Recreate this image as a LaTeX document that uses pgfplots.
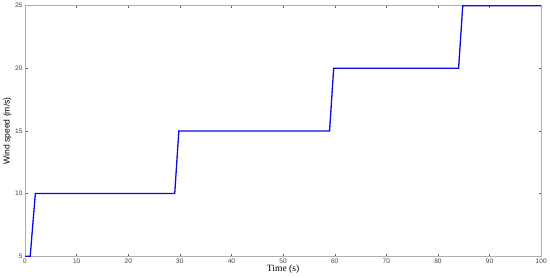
\documentclass[border=0pt]{standalone}
\usepackage{fontspec}
\setmainfont{Liberation Sans}
\newfontfamily\timesfont{Liberation Serif}
\usepackage{pgfplots}
\pgfplotsset{compat=1.18}
\definecolor{axgray}{RGB}{175,175,175}
\definecolor{lineblue}{RGB}{10,10,225}
\begin{document}
\begin{tikzpicture}
\begin{axis}[
  scale only axis,
  width=513pt, height=249pt,
  xmin=0, xmax=100, ymin=5, ymax=25,
  xtick={0,10,...,100},
  ytick={5,10,15,20,25},
  tick align=inside,
  major tick length=2.5pt,
  axis line style={axgray, line width=0.8pt},
  tick style={gray!80!black, line width=0.4pt},
  tick label style={font=\fontsize{6.5}{7}\selectfont, text=black!75},
  /pgf/number format/assume math mode=true,
  xticklabel style={yshift=1pt},
  yticklabel style={xshift=1pt},
  xlabel={\timesfont Time (s)},
  ylabel={Wind speed (m/s)},
  xlabel style={font=\fontsize{9.5}{10}\selectfont, yshift=5pt},
  ylabel style={font=\fontsize{8.5}{9}\selectfont, yshift=-3pt},
]
\addplot[lineblue, line width=1.3pt] coordinates {
  (0,5) (1,5) (2,10) (29,10) (29.8,15) (59,15) (59.8,20) (84,20) (84.8,25) (100,25)
};
\end{axis}
\end{tikzpicture}
\end{document}
